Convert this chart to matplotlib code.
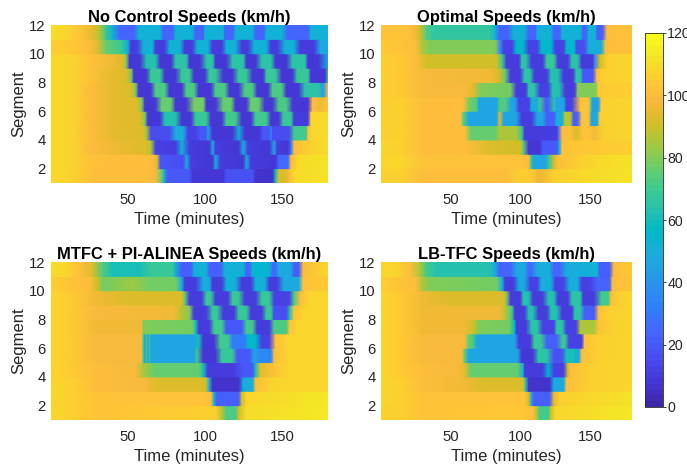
import numpy as np
import matplotlib
matplotlib.use('Agg')
import matplotlib.pyplot as plt
from matplotlib.colors import ListedColormap

plt.rcParams['font.family'] = ['Liberation Sans', 'DejaVu Sans']

parula = ListedColormap([
    (0.2422,0.1504,0.6603),(0.2504,0.1650,0.7076),(0.2578,0.1818,0.7511),(0.2647,0.1978,0.7952),
    (0.2706,0.2147,0.8364),(0.2751,0.2342,0.8710),(0.2783,0.2559,0.8991),(0.2803,0.2782,0.9221),
    (0.2813,0.3006,0.9414),(0.2810,0.3228,0.9579),(0.2795,0.3447,0.9717),(0.2760,0.3667,0.9829),
    (0.2699,0.3892,0.9906),(0.2602,0.4123,0.9952),(0.2440,0.4358,0.9988),(0.2206,0.4603,0.9973),
    (0.1963,0.4847,0.9892),(0.1834,0.5074,0.9798),(0.1786,0.5289,0.9682),(0.1764,0.5499,0.9520),
    (0.1687,0.5703,0.9359),(0.1540,0.5902,0.9218),(0.1460,0.6091,0.9079),(0.1380,0.6276,0.8973),
    (0.1248,0.6459,0.8883),(0.1113,0.6635,0.8763),(0.0952,0.6798,0.8598),(0.0689,0.6948,0.8394),
    (0.0297,0.7082,0.8163),(0.0036,0.7203,0.7917),(0.0067,0.7312,0.7660),(0.0433,0.7411,0.7394),
    (0.0964,0.7500,0.7120),(0.1408,0.7584,0.6842),(0.1717,0.7670,0.6554),(0.1938,0.7758,0.6251),
    (0.2161,0.7843,0.5923),(0.2470,0.7918,0.5567),(0.2906,0.7973,0.5188),(0.3406,0.8008,0.4789),
    (0.3909,0.8029,0.4354),(0.4456,0.8024,0.3909),(0.5044,0.7993,0.3480),(0.5616,0.7942,0.3045),
    (0.6174,0.7876,0.2612),(0.6720,0.7793,0.2227),(0.7242,0.7698,0.1910),(0.7738,0.7598,0.1646),
    (0.8203,0.7498,0.1535),(0.8634,0.7406,0.1596),(0.9035,0.7330,0.1774),(0.9393,0.7288,0.2100),
    (0.9728,0.7298,0.2394),(0.9956,0.7434,0.2371),(0.9970,0.7659,0.2199),(0.9952,0.7893,0.2028),
    (0.9892,0.8136,0.1885),(0.9786,0.8386,0.1766),(0.9676,0.8639,0.1643),(0.9610,0.8890,0.1537),
    (0.9597,0.9135,0.1423),(0.9628,0.9373,0.1265),(0.9691,0.9606,0.1064),(0.9769,0.9839,0.0805)])

# each row is one segment band (bottom one first), as (minute, speed) readings
no_control = [
    [(0,108),(10,108),(20,104),(30,100),(60,100),(68,98),(72,75),(74,40),(76,20),(90,20),(92,8),(112,8),(114,18),(131,18),(133,6),(144,6),(146,60),(148,92),(153,92),(155,100),(159,110),(180,112)],
    [(0,108),(12,108),(25,102),(40,100),(66,100),(69,95),(71,20),(86,15),(88,50),(91,10),(105,8),(107,50),(110,10),(125,8),(127,50),(130,10),(146,8),(148,25),(154,25),(156,100),(161,110),(180,112)],
    [(0,108),(12,108),(25,101),(40,96),(62,92),(65,85),(68,12),(81,10),(85,50),(90,10),(103,8),(105,50),(107,10),(122,8),(125,50),(128,10),(142,8),(145,45),(147,10),(154,8),(156,30),(158,100),(168,106),(180,110)],
    [(0,108),(12,108),(25,101),(40,95),(60,92),(62,85),(65,15),(77,15),(81,50),(86,50),(89,12),(94,12),(97,20),(101,20),(102,45),(105,8),(118,8),(122,50),(126,8),(135,8),(138,20),(142,20),(143,35),(144,15),(155,15),(158,70),(166,70),(167,100),(169,108),(180,110)],
    [(0,108),(12,108),(25,101),(40,95),(58,92),(61,80),(63,8),(71,8),(74,62),(81,62),(85,8),(91,8),(94,68),(101,68),(104,8),(111,8),(114,70),(120,70),(124,8),(130,8),(133,70),(140,70),(143,8),(148,8),(151,68),(156,68),(158,10),(167,10),(169,108),(180,110)],
    [(0,108),(12,108),(25,101),(40,95),(56,92),(59,80),(61,8),(68,8),(72,75),(78,75),(81,8),(88,8),(93,78),(99,78),(101,8),(107,8),(112,75),(117,75),(120,8),(127,8),(130,75),(135,75),(139,8),(144,8),(148,72),(153,72),(157,8),(167,8),(170,100),(175,96),(180,102)],
    [(0,108),(12,108),(25,101),(40,95),(52,92),(55,80),(57,8),(65,8),(68,72),(74,72),(77,8),(85,8),(88,72),(93,72),(96,8),(104,8),(107,72),(113,72),(116,8),(122,8),(126,72),(131,72),(134,8),(141,8),(144,72),(150,72),(153,8),(161,8),(165,65),(174,65),(177,40),(180,100)],
    [(0,108),(12,108),(25,102),(40,95),(49,93),(52,80),(54,8),(62,8),(65,68),(71,68),(74,8),(81,8),(85,68),(90,68),(93,8),(100,8),(103,68),(107,68),(112,8),(118,8),(122,68),(127,68),(131,8),(138,8),(140,68),(146,68),(150,8),(157,8),(160,68),(167,68),(169,8),(178,8),(180,70)],
    [(0,108),(12,108),(25,102),(40,96),(47,93),(49,80),(51,8),(58,8),(62,62),(68,62),(71,8),(78,8),(81,65),(88,65),(90,8),(97,8),(101,65),(105,65),(107,8),(114,8),(118,65),(125,65),(127,8),(133,8),(137,65),(143,65),(146,8),(153,8),(157,65),(165,65),(167,8),(174,8),(180,50)],
    [(0,106),(12,104),(25,101),(30,95),(36,75),(45,70),(50,52),(52,10),(56,10),(60,52),(66,52),(68,10),(74,10),(77,52),(84,52),(87,10),(92,10),(95,52),(102,52),(105,10),(111,10),(114,52),(120,52),(124,10),(128,10),(132,52),(140,52),(143,10),(147,10),(152,52),(158,52),(162,10),(171,10),(175,48),(180,48)],
    [(0,110),(10,108),(20,102),(27,94),(32,85),(36,68),(40,52),(45,24),(54,24),(57,52),(71,52),(73,24),(79,24),(81,52),(92,52),(94,24),(99,24),(100,52),(112,52),(113,24),(118,24),(120,52),(131,52),(133,24),(138,24),(140,52),(150,52),(154,24),(167,24),(169,52),(180,52)],
]
optimal = [
    [(0,106),(15,106),(30,101),(90,101),(100,105),(108,104),(112,96),(115,96),(124,106),(150,109),(180,112)],
    [(0,108),(15,108),(30,102),(100,102),(106,100),(108,65),(110,46),(118,46),(120,65),(124,90),(127,100),(143,106),(162,110),(180,112)],
    [(0,108),(15,105),(30,101),(60,100),(78,92),(100,90),(102,75),(106,8),(114,8),(116,20),(126,20),(128,50),(130,102),(150,104),(180,106)],
    [(0,106),(15,105),(30,101),(60,100),(64,80),(65,76),(82,76),(85,85),(97,85),(101,70),(103,10),(126,10),(127,22),(130,100),(136,101),(140,92),(145,103),(150,102),(153,96),(159,106),(180,107)],
    [(0,106),(15,105),(30,100),(57,100),(59,75),(63,46),(83,46),(85,95),(88,46),(97,46),(101,10),(108,10),(112,46),(116,46),(119,22),(124,22),(126,50),(130,50),(132,88),(136,88),(138,22),(141,22),(144,102),(149,102),(151,46),(155,46),(157,105),(180,107)],
    [(0,106),(15,105),(30,100),(59,100),(63,80),(69,72),(70,46),(83,46),(85,72),(89,74),(93,46),(96,46),(99,12),(106,12),(108,50),(112,50),(114,70),(118,22),(120,22),(124,65),(126,46),(131,46),(133,12),(137,12),(143,102),(149,102),(151,65),(152,44),(156,44),(158,105),(180,107)],
    [(0,106),(15,104),(30,99),(60,99),(66,95),(71,80),(93,78),(97,10),(104,10),(106,65),(110,65),(114,12),(120,12),(123,62),(128,62),(132,10),(139,10),(141,80),(154,80),(156,104),(180,106)],
    [(0,106),(15,104),(30,98),(80,96),(85,90),(89,75),(93,10),(100,10),(103,65),(107,65),(110,10),(119,10),(122,62),(127,62),(131,10),(138,10),(140,65),(143,65),(145,20),(152,20),(155,102),(159,106),(180,107)],
    [(0,106),(15,104),(25,100),(33,91),(83,90),(87,70),(90,10),(99,10),(101,65),(104,65),(108,10),(116,10),(119,68),(124,68),(127,10),(134,10),(137,65),(141,65),(144,10),(152,10),(153,30),(157,90),(162,106),(180,107)],
    [(0,104),(15,103),(25,100),(30,85),(35,79),(82,79),(86,30),(88,12),(94,12),(97,55),(102,55),(106,12),(112,12),(115,55),(122,55),(125,12),(131,12),(133,55),(139,55),(140,15),(146,15),(149,50),(158,50),(161,100),(180,102)],
    [(0,103),(10,103),(19,102),(24,98),(28,90),(33,72),(38,66),(78,66),(82,52),(85,24),(91,24),(95,52),(103,52),(106,24),(111,24),(112,52),(122,52),(124,24),(128,24),(130,52),(143,52),(145,24),(147,24),(149,52),(154,52),(155,22),(159,22),(162,100),(180,103)],
]
mtfc = [
    [(0,108),(15,106),(30,102),(100,105),(107,105),(111,88),(114,72),(120,72),(122,90),(127,110),(180,113)],
    [(0,108),(15,106),(30,102),(100,102),(104,100),(106,50),(108,22),(122,22),(124,90),(127,108),(180,113)],
    [(0,108),(15,105),(30,101),(60,98),(70,92),(100,92),(101,85),(103,45),(105,6),(122,6),(125,50),(131,50),(133,100),(145,107),(180,108)],
    [(0,107),(15,104),(30,100),(55,98),(60,85),(66,78),(68,76),(96,76),(99,60),(102,10),(118,10),(125,20),(131,20),(133,60),(136,95),(145,102),(155,107),(180,108)],
    [(0,107),(15,104),(30,98),(59,98),(60,72),(61,46),(62,70),(63,46),(64,70),(65,46),(66,46),(93,46),(95,70),(99,8),(107,8),(111,68),(118,68),(121,20),(129,20),(132,45),(136,35),(143,35),(145,100),(155,107),(180,108)],
    [(0,107),(15,104),(30,98),(59,98),(60,70),(61,46),(62,70),(63,46),(64,70),(65,46),(66,46),(93,46),(96,60),(99,8),(106,8),(110,70),(115,70),(118,30),(126,30),(128,55),(133,55),(137,12),(142,12),(146,102),(155,107),(180,108)],
    [(0,107),(15,104),(30,97),(59,97),(60,79),(92,78),(94,60),(96,10),(103,10),(106,70),(111,70),(114,20),(124,20),(127,70),(131,70),(134,10),(142,10),(145,72),(153,72),(155,103),(160,107),(180,108)],
    [(0,107),(15,104),(30,98),(80,97),(85,88),(90,80),(93,10),(101,10),(105,68),(108,68),(112,10),(119,10),(122,68),(127,68),(130,10),(137,10),(140,68),(143,68),(145,15),(153,15),(155,60),(158,103),(165,107),(180,108)],
    [(0,107),(15,104),(30,96),(50,92),(85,92),(87,75),(90,10),(98,10),(101,68),(104,68),(107,10),(115,10),(118,68),(122,68),(126,10),(133,10),(137,68),(142,68),(145,12),(155,12),(158,72),(162,100),(168,107),(180,108)],
    [(0,105),(15,103),(25,101),(30,90),(34,78),(53,84),(64,78),(81,78),(85,50),(87,10),(94,10),(99,50),(103,50),(105,10),(111,10),(114,52),(120,52),(124,10),(130,10),(133,52),(139,52),(142,10),(147,10),(151,48),(161,48),(164,103),(180,104)],
    [(0,110),(10,108),(20,100),(27,92),(34,72),(40,60),(58,60),(64,68),(79,68),(81,52),(85,22),(91,22),(93,52),(101,52),(103,22),(110,22),(113,52),(125,52),(127,24),(129,24),(131,54),(142,54),(144,26),(146,26),(148,48),(156,48),(158,22),(161,22),(164,100),(180,107)],
]
lb_tfc = [
    [(0,106),(15,105),(30,102),(100,104),(109,100),(112,85),(114,70),(120,70),(122,90),(125,108),(180,113)],
    [(0,108),(15,106),(30,102),(103,102),(106,90),(108,45),(110,22),(121,22),(124,95),(128,106),(180,112)],
    [(0,108),(15,105),(30,101),(60,97),(73,92),(102,92),(104,60),(106,6),(121,6),(124,48),(131,48),(133,100),(150,106),(180,107)],
    [(0,107),(15,104),(30,100),(55,99),(60,95),(64,78),(66,75),(98,75),(102,50),(103,10),(116,10),(120,55),(124,12),(131,12),(134,90),(136,100),(150,105),(180,107)],
    [(0,107),(15,104),(30,98),(58,98),(60,75),(63,46),(98,46),(101,8),(109,8),(113,65),(119,65),(124,18),(130,18),(133,60),(138,60),(140,50),(142,50),(144,100),(155,106),(180,107)],
    [(0,107),(15,104),(30,98),(60,98),(63,75),(66,72),(69,46),(96,46),(99,10),(107,10),(110,68),(115,68),(119,22),(126,22),(130,68),(132,68),(135,12),(144,12),(146,103),(155,106),(180,107)],
    [(0,107),(15,104),(30,97),(60,97),(66,90),(70,79),(92,78),(96,55),(97,10),(104,10),(108,65),(112,65),(116,12),(124,12),(126,65),(130,65),(133,12),(140,12),(143,85),(153,85),(156,103),(165,106),(180,107)],
    [(0,107),(15,104),(30,97),(85,96),(90,85),(94,70),(96,10),(103,10),(106,62),(109,62),(113,10),(119,10),(122,62),(126,62),(130,10),(137,10),(139,65),(143,65),(146,22),(153,22),(156,100),(162,106),(180,107)],
    [(0,107),(15,104),(30,96),(50,93),(88,93),(90,80),(93,10),(100,10),(102,62),(106,62),(109,10),(116,10),(120,62),(124,62),(127,10),(134,10),(137,65),(143,65),(145,10),(153,10),(158,70),(163,70),(165,100),(170,106),(180,107)],
    [(0,105),(15,103),(25,100),(30,85),(35,79),(83,78),(87,50),(89,10),(95,10),(99,50),(103,50),(107,12),(112,12),(115,50),(122,50),(125,12),(131,12),(135,50),(141,50),(144,12),(150,12),(155,24),(164,24),(166,100),(180,102)],
    [(0,108),(10,107),(21,100),(28,85),(33,70),(40,63),(78,63),(82,48),(85,24),(93,24),(97,48),(103,48),(106,26),(108,26),(112,50),(121,50),(124,24),(128,24),(133,50),(143,50),(149,52),(155,52),(157,22),(164,22),(167,100),(180,104)],
]

titles = ['No Control Speeds (km/h)', 'Optimal Speeds (km/h)',
          'MTFC + PI-ALINEA Speeds (km/h)', 'LB-TFC Speeds (km/h)']
panels = [no_control, optimal, mtfc, lb_tfc]
boxes = [(51, 25, 277, 158), (381, 25, 251, 158), (51, 262, 277, 158), (381, 262, 251, 158)]
seg_ticks = [2, 4, 6, 8, 10, 12]
time_ticks = [50, 100, 150]
W, H = 687, 467
grey = '#262626'

fig = plt.figure(figsize=(W / 100, H / 100), dpi=100)
for rows, title, (x, y, w, h) in zip(panels, titles, boxes):
    ax = fig.add_axes([x / W, 1 - (y + h) / H, w / W, h / H])
    for i, row in enumerate(rows):
        t = np.array([p[0] for p in row], dtype=float)
        v = np.array([p[1] for p in row], dtype=float)
        mesh = ax.pcolormesh(t, [i + 1, i + 2], np.vstack([v, v]), cmap=parula,
                             vmin=0, vmax=120, shading='gouraud')
    ax.set_xlim(0, 180)
    ax.set_ylim(1, 12)
    ax.set_xticks(time_ticks)
    ax.set_yticks(seg_ticks)
    ax.tick_params(length=0, labelsize=10.7, labelcolor=grey, pad=4)
    ax.tick_params(axis='x', pad=7)
    for s in ax.spines.values():
        s.set_visible(False)
    ax.set_xlabel('Time (minutes)', fontsize=12, color=grey, labelpad=4)
    ax.set_ylabel('Segment', fontsize=12, color=grey, labelpad=2)
    ax.set_title(title, fontsize=11.9, fontweight='bold', color='black', pad=2)

cax = fig.add_axes([645 / W, 1 - 407 / H, 18 / W, 374 / H])
cb = fig.colorbar(mesh, cax=cax, ticks=range(0, 121, 20))
cb.outline.set_linewidth(0.6)
cb.outline.set_edgecolor(grey)
cb.ax.tick_params(length=2, width=0.6, color=grey, labelsize=10.2, labelcolor=grey, pad=1)

fig.savefig('out.png', dpi=100)
